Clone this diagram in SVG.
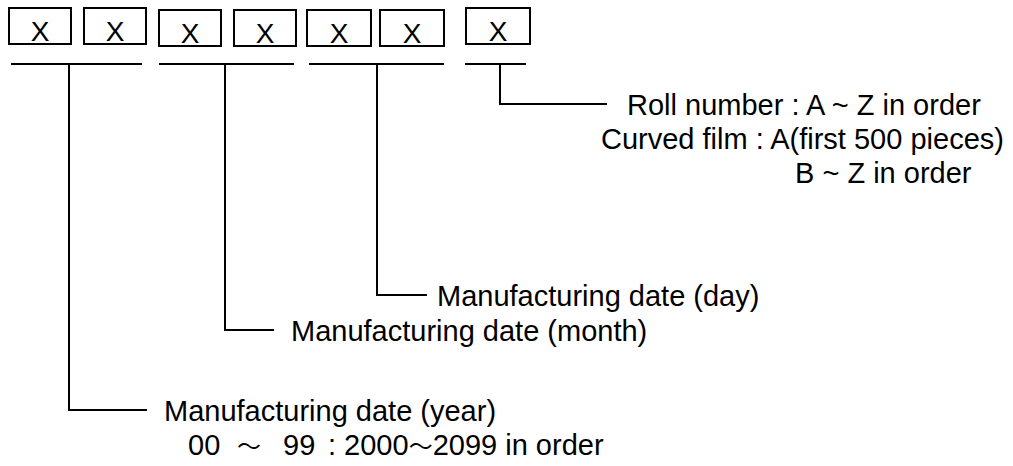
<svg xmlns="http://www.w3.org/2000/svg" width="1013" height="466" viewBox="0 0 1013 466">
<style>
.box{fill:#fff;stroke:#000;stroke-width:2}
.x{font-family:"Liberation Sans",Arial,sans-serif;font-size:28px;fill:#000;text-anchor:middle}
.t{font-family:"Liberation Sans",Arial,"Noto Sans CJK JP",sans-serif;font-size:29px;fill:#000}
.tl{font-family:"Noto Sans CJK JP",sans-serif;font-size:24px}
.ln{fill:none;stroke:#000;stroke-width:2}
</style>
<rect width="1013" height="466" fill="#fff"/>
<g id="digit1"><rect class="box" x="9" y="8" width="62" height="36"/><text class="x" x="40" y="41">X</text></g>
<g id="digit2"><rect class="box" x="84" y="8" width="62" height="36"/><text class="x" x="115" y="41">X</text></g>
<g id="digit3"><rect class="box" x="159" y="10" width="62" height="36"/><text class="x" x="190" y="43">X</text></g>
<g id="digit4"><rect class="box" x="234" y="10" width="62" height="36"/><text class="x" x="265" y="43">X</text></g>
<g id="digit5"><rect class="box" x="307" y="10" width="64" height="36"/><text class="x" x="339" y="43">X</text></g>
<g id="digit6"><rect class="box" x="380" y="10" width="64" height="36"/><text class="x" x="412" y="43">X</text></g>
<g id="digit7"><rect class="box" x="466" y="8" width="64" height="36"/><text class="x" x="498" y="41">X</text></g>
<g id="connectors">
<line class="ln" x1="11" y1="64" x2="142" y2="64"/>
<line class="ln" x1="159" y1="64" x2="294" y2="64"/>
<line class="ln" x1="309" y1="64" x2="444" y2="64"/>
<line class="ln" x1="465" y1="64" x2="526" y2="64"/>
<polyline class="ln" points="69,64 69,410 147,410"/>
<polyline class="ln" points="225,64 225,330 274,330"/>
<polyline class="ln" points="377,64 377,295 427,295"/>
<polyline class="ln" points="500,64 500,104 607,104"/>
</g>
<g id="roll-label">
<text class="t" x="627" y="114.5">Roll number : A ~ Z in order</text>
<text class="t" x="601" y="148.5">Curved film : A(first 500 pieces)</text>
<text class="t" x="795" y="182.5">B ~ Z in order</text>
</g>
<g id="day-label"><text class="t" x="437" y="306">Manufacturing date (day)</text></g>
<g id="month-label"><text class="t" x="291" y="340.5">Manufacturing date (month)</text></g>
<g id="year-label">
<text class="t" x="164" y="420.5">Manufacturing date (year)</text>
<text class="t" x="188" y="455" xml:space="preserve">00<tspan class="tl" x="237">～</tspan><tspan x="283">99</tspan><tspan x="328">: 2000</tspan><tspan class="tl">～</tspan>2099 in order</text>
</g>
</svg>
